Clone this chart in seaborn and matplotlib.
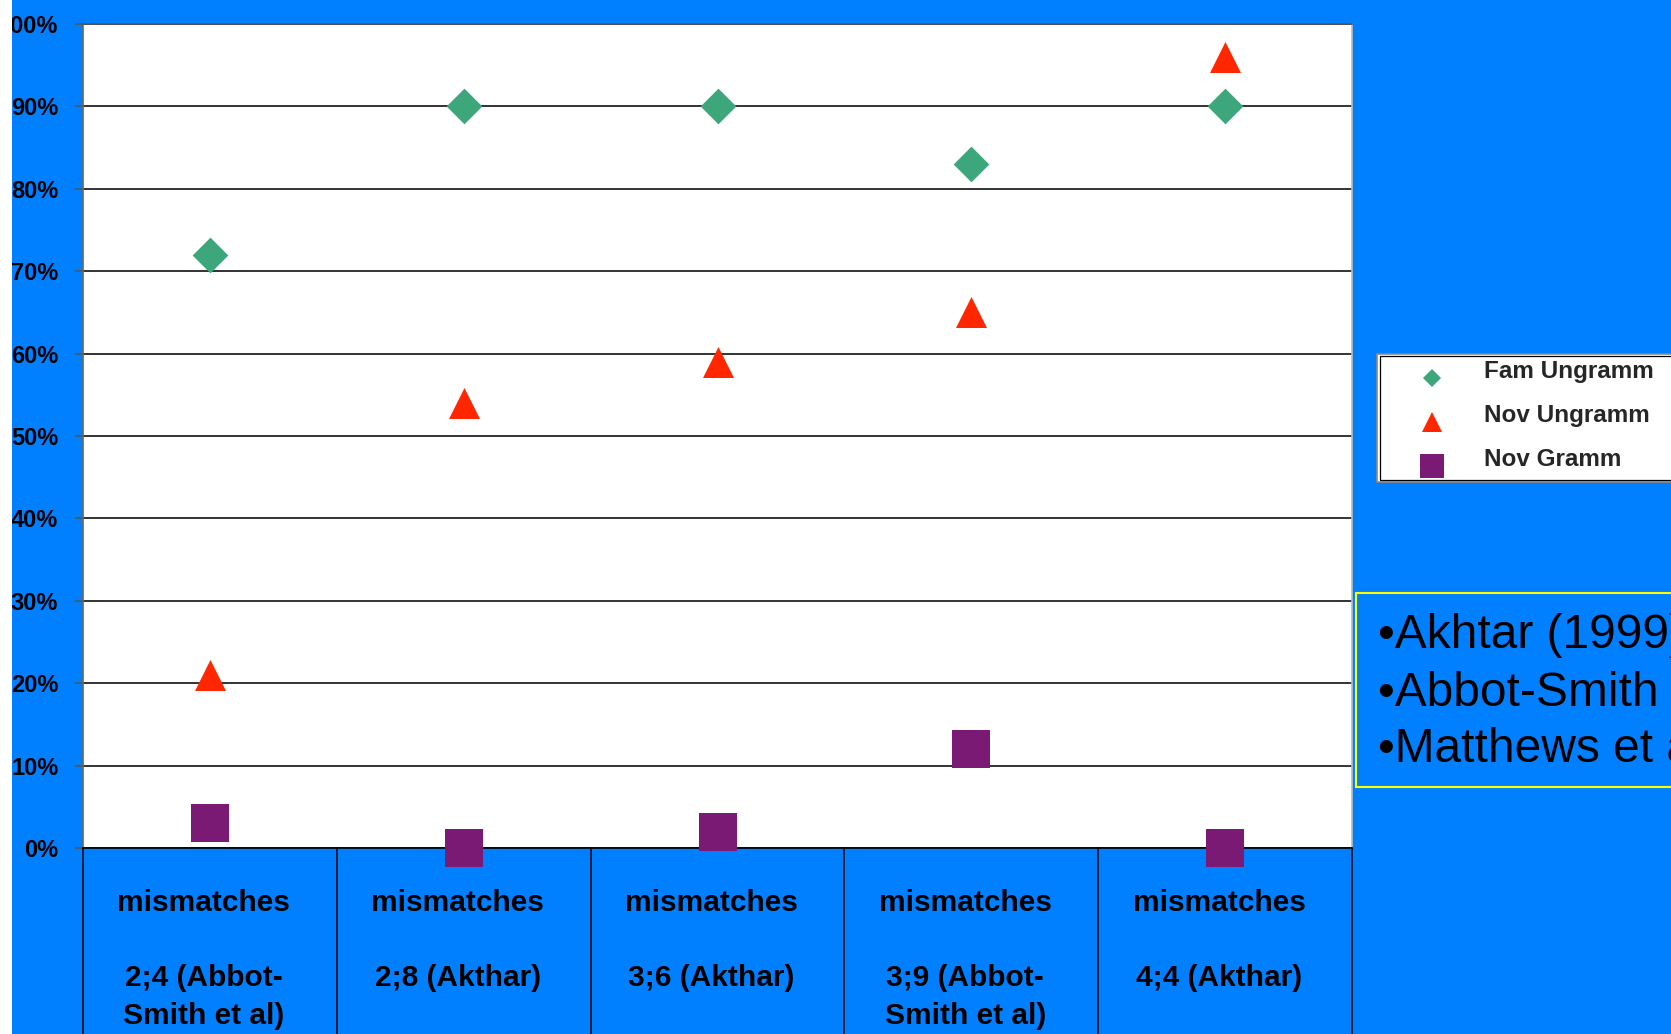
import matplotlib
matplotlib.use("Agg")
import matplotlib.pyplot as plt
import matplotlib.transforms as mtransforms
from matplotlib.patches import Rectangle
from matplotlib.lines import Line2D
from matplotlib.legend_handler import HandlerLine2D
import pandas as pd
import seaborn as sns

# ---- data -------------------------------------------------------------
groups = [
    "mismatches\n\n2;4 (Abbot-\nSmith et al)",
    "mismatches\n\n2;8 (Akthar)",
    "mismatches\n\n3;6 (Akthar)",
    "mismatches\n\n3;9 (Abbot-\nSmith et al)",
    "mismatches\n\n4;4 (Akthar)",
]
fam_ungramm = [72, 90, 90, 83, 90]
nov_ungramm = [21, 54, 59, 65, 96]
nov_gramm = [3, 0, 2, 12, 0]

series_names = ["Fam Ungramm", "Nov Ungramm", "Nov Gramm"]
y_ticks = [0, 10, 20, 30, 40, 50, 60, 70, 80, 90, 100]
y_ticklabels = [f"{v}%" for v in y_ticks]
sources = ["\u2022Akhtar (1999)", "\u2022Abbot-Smith et al (2001)", "\u2022Matthews et al (2005)"]

# ---- style ------------------------------------------------------------
sns.set_style("white")
plt.rcParams["font.family"] = ["Liberation Sans", "DejaVu Sans"]

BLUE = "#0080FF"
GREEN = "#3DA77B"
RED = "#FF2600"
PURPLE = "#7B1A74"

W, H = 1671, 1034
fig = plt.figure(figsize=(W / 100, H / 100), dpi=100)
fig.patch.set_facecolor(BLUE)

# plot area in pixel terms: x 83..1352, y 24..848
ax = fig.add_axes([83 / W, 1 - 848 / H, (1352 - 83) / W, (848 - 24) / H])
ax.set_facecolor("white")

df = pd.DataFrame({
    "group": groups,
    series_names[0]: fam_ungramm,
    series_names[1]: nov_ungramm,
    series_names[2]: nov_gramm,
})

sns.scatterplot(data=df, x="group", y=series_names[0], marker="D", s=330,
                color=GREEN, linewidth=0, ax=ax, zorder=4, clip_on=False)
sns.scatterplot(data=df, x="group", y=series_names[1], marker="^", s=497,
                color=RED, linewidth=0, ax=ax, zorder=4, clip_on=False)
sns.scatterplot(data=df, x="group", y=series_names[2], marker="s", s=788,
                color=PURPLE, linewidth=0, ax=ax, zorder=4, clip_on=False)

ax.set_xlim(-0.5, len(groups) - 0.5)
ax.set_ylim(0, 100)
ax.set_xlabel("")
ax.set_ylabel("")

# horizontal gridlines
ax.set_yticks(y_ticks)
ax.set_yticklabels(y_ticklabels, fontsize=17, fontweight="bold", color="black")
ax.yaxis.grid(True, color="#111111", linewidth=1.2)
ax.xaxis.grid(False)
ax.set_axisbelow(True)
ax.tick_params(axis="y", direction="out", length=5.8, width=1.2,
               color="#555555", pad=12, left=True)

# category labels under each slot
ax.set_xticks(range(len(groups)))
ax.set_xticklabels(groups, fontsize=21.5, fontweight="bold", color="black",
                   linespacing=1.43)
ax.tick_params(axis="x", length=0, pad=29.7)
shift = mtransforms.ScaledTranslation(-6 / 100, 0, fig.dpi_scale_trans)
for lab in ax.get_xticklabels():
    lab.set_transform(lab.get_transform() + shift)

# vertical dividers between category slots, running down through the label band
for i in range(len(groups) + 1):
    ax.axvline(i - 0.5, ymin=-(H - 848) / (848 - 24), ymax=0, color="black",
               linewidth=1.1, clip_on=False, zorder=3)

for side, col in [("left", "#666666"), ("top", "#555555"),
                  ("right", "#BBBBBB"), ("bottom", "black")]:
    ax.spines[side].set_visible(True)
    ax.spines[side].set_color(col)
    ax.spines[side].set_linewidth(1.2)


# legend: markers sit a little below the middle of their label
class LoweredMarkerHandler(HandlerLine2D):
    def __init__(self, drop, **kw):
        super().__init__(**kw)
        self.drop = drop

    def create_artists(self, legend, orig_handle, xdescent, ydescent,
                       width, height, fontsize, trans):
        arts = super().create_artists(legend, orig_handle, xdescent, ydescent,
                                      width, height, fontsize, trans)
        for a in arts:
            a.set_ydata([y - self.drop for y in a.get_ydata()])
        return arts


fig.add_artist(Rectangle((1377 / W, 1 - 482 / H), (W + 20 - 1377) / W, (482 - 354) / H,
                         transform=fig.transFigure, facecolor="white",
                         edgecolor="#888888", linewidth=1.2, zorder=-1))
fig.add_artist(Rectangle((1379.5 / W, 1 - 479.5 / H), (W + 20 - 1379.5) / W, (479.5 - 356.5) / H,
                         transform=fig.transFigure, facecolor="none",
                         edgecolor="black", linewidth=0.9, zorder=-1))
handles = [
    Line2D([], [], marker="D", linestyle="none", color=GREEN, markersize=9.3, markeredgewidth=0),
    Line2D([], [], marker="^", linestyle="none", color=RED, markersize=13.7, markeredgewidth=0),
    Line2D([], [], marker="s", linestyle="none", color=PURPLE, markersize=17.3, markeredgewidth=0),
]
ax.legend(handles, series_names, loc="upper left",
          bbox_to_anchor=(1412 / W, 1 - 360 / H), bbox_transform=fig.transFigure,
          frameon=False, borderpad=0, borderaxespad=0, handlelength=1.65,
          handletextpad=1.3, labelspacing=0.86,
          handler_map={Line2D: LoweredMarkerHandler(drop=6.0)},
          prop={"family": ["Liberation Sans", "DejaVu Sans"], "weight": "bold", "size": 17.5})

# references box
fig.add_artist(Rectangle((1356 / W, 1 - 787 / H), (W + 20 - 1356) / W, (787 - 593) / H,
                         transform=fig.transFigure, facecolor=BLUE,
                         edgecolor="#FFFF00", linewidth=1.5, zorder=1))
for txt, base in zip(sources, [648.3, 705.5, 762.0]):
    fig.text(1378 / W, 1 - base / H, txt, fontsize=34.5, color="black",
             ha="left", va="baseline", zorder=2)

# thin white margin strip along the left edge
fig.add_artist(Rectangle((0, 0), 12 / W, 1, transform=fig.transFigure,
                         facecolor="white", edgecolor="none", zorder=10))

fig.savefig("out.png", dpi=100, facecolor=fig.get_facecolor())
